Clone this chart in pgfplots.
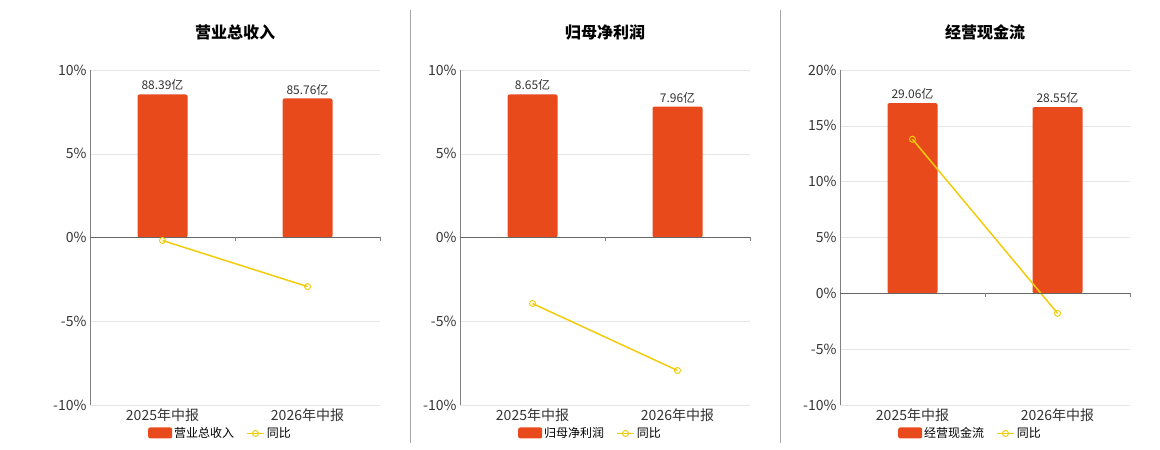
\documentclass[border=0pt]{standalone}
\usepackage{pgfplots}
\pgfplotsset{compat=1.18}
\usepackage{fontspec}
\setmainfont{Noto Sans CJK SC}
\definecolor{bar}{HTML}{E84A1C}
\definecolor{yl}{HTML}{F2CC0C}
\definecolor{gr}{HTML}{E6E6E6}
\pgfplotsset{
 panel/.style={scale only axis, width=290pt, height=335pt,
  xmin=-0.5, xmax=1.5, xtick={0,1}, xticklabels={2025年中报,2026年中报},
  axis x line*=bottom, x axis line style={draw=none}, xtick style={draw=none},
  axis y line*=left, y axis line style={gray}, ytick style={draw=none},
  ymajorgrids, grid style={gr},
  yticklabel={\pgfmathprintnumber{\tick}\%}, /pgf/number format/assume math mode=true,
  tick label style={font=\fontsize{14}{16}\selectfont, text=black!80},
  legend style={at={(0.45,-0.055)}, anchor=north, draw=none, legend columns=2,
    font=\fontsize{12}{14}\selectfont, /tikz/every even column/.append style={column sep=10pt}},
  title style={font=\bfseries\fontsize{16}{18}\selectfont, yshift=20pt},
  clip=false},
 bars/.style={ybar, bar width=50pt, fill=bar, draw=none, rounded corners=2pt,
  nodes near coords, point meta=explicit symbolic,
  every node near coord/.append style={font=\fontsize{12}{14}\selectfont, text=black!80}},
 ln/.style={yl, line width=1.5pt, mark=o, mark size=3pt, mark options={fill=white, line width=1pt}},
}
\newcommand{\zero}{\draw[gray!80!black, thick] (axis cs:-0.5,0)--(axis cs:1.5,0);
 \draw[gray] (axis cs:0.5,0)--([yshift=-4pt]axis cs:0.5,0); \draw[gray] (axis cs:1.5,0)--([yshift=-4pt]axis cs:1.5,0);}
\begin{document}
\begin{tikzpicture}
\useasboundingbox (0,0) rectangle (1160pt,450pt);
\draw[gray!70] (410pt,7pt)--(410pt,440pt);
\draw[gray!70] (780pt,7pt)--(780pt,440pt);
\begin{axis}[panel, at={(90pt,45pt)}, ymin=-10, ymax=10, ytick={-10,-5,0,5,10}, title={营业总收入}]
\addplot[bars, legend image code/.code={\fill[bar,rounded corners=2pt] (0pt,-5pt) rectangle (24pt,6pt);}] table[meta=l] {
x y l
0 8.54 88.39亿
1 8.30 85.76亿
};
\addlegendentry{营业总收入}
\addplot[ln] coordinates {(0,-0.18) (1,-2.93)};
\addlegendentry{同比}
\zero
\end{axis}
\begin{axis}[panel, at={(460pt,45pt)}, ymin=-10, ymax=10, ytick={-10,-5,0,5,10}, title={归母净利润}]
\addplot[bars, legend image code/.code={\fill[bar,rounded corners=2pt] (0pt,-5pt) rectangle (24pt,6pt);}] table[meta=l] {
x y l
0 8.54 8.65亿
1 7.82 7.96亿
};
\addlegendentry{归母净利润}
\addplot[ln] coordinates {(0,-3.94) (1,-7.94)};
\addlegendentry{同比}
\zero
\end{axis}
\begin{axis}[panel, at={(840pt,45pt)}, ymin=-10, ymax=20, ytick={-10,-5,0,5,10,15,20}, title={经营现金流}]
\addplot[bars, legend image code/.code={\fill[bar,rounded corners=2pt] (0pt,-5pt) rectangle (24pt,6pt);}] table[meta=l] {
x y l
0 17.04 29.06亿
1 16.68 28.55亿
};
\addlegendentry{经营现金流}
\addplot[ln] coordinates {(0,13.8) (1,-1.79)};
\addlegendentry{同比}
\zero
\end{axis}
\end{tikzpicture}
\end{document}
